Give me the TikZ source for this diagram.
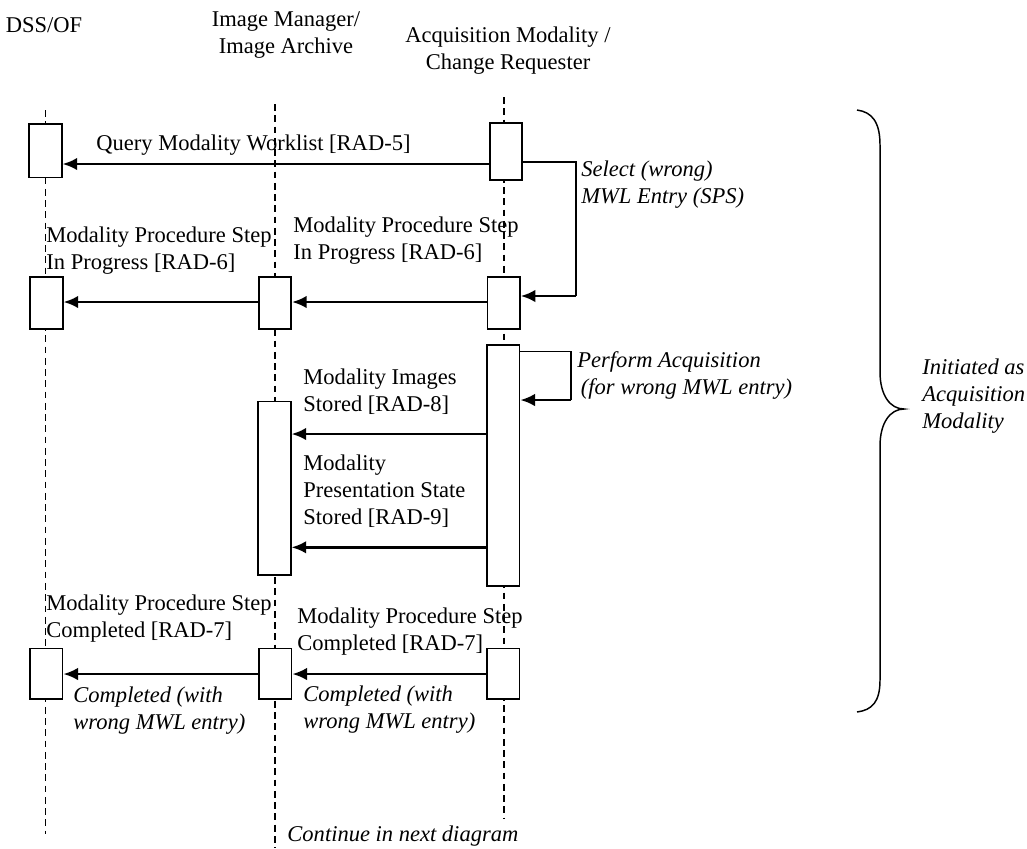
\documentclass[tikz,border=0pt]{standalone}
\usepackage{fontspec}
\setmainfont{Liberation Serif}
\usetikzlibrary{arrows.meta}
\begin{document}
\begin{tikzpicture}[x=0.444pt,y=-0.444pt,
  life/.style={line width=0.6pt,dash pattern=on 3pt off 2pt},
  act/.style={draw,fill=white,line width=0.75pt,minimum width=14.4pt,inner sep=0pt},
  msg/.style={line width=1.15pt,-{Latex[length=6.5pt,width=5.6pt]}},
  txt/.style={anchor=west,align=left,inner sep=0pt,font=\fontsize{10}{12}\selectfont},
  note/.style={txt,font=\fontsize{10}{12}\selectfont\itshape},
  head/.style={align=center,inner sep=0pt,font=\fontsize{10}{12}\selectfont}]
  \useasboundingbox (0,0) rectangle (1027,848);
  % actors
  \node[head] (dss) at (44,25) {DSS/OF};
  \node[head] (im) at (286,35) {Image Manager/\\Image Archive};
  \node[head] (am) at (508,51) {Acquisition Modality /\\Change Requester};
  % lifelines
  \draw[life] (45.5,110) -- (45.5,834);
  \draw[life] (275,104) -- (275,848);
  \draw[life] (504,97) -- (504,818);
  % activation boxes
  \node[act,minimum height=23.7pt] (dss1) at (45.5,150.7) {};
  \node[act,minimum height=25.4pt] (am1) at (506,151.3) {};
  \node[act,minimum height=22.8pt] (dss2) at (46.5,303) {};
  \node[act,minimum height=22.8pt] (im2) at (275,303) {};
  \node[act,minimum height=22.8pt] (am2) at (503.7,303) {};
  \node[act,minimum height=106.9pt] (am3) at (503.3,465.7) {};
  \node[act,minimum height=77.1pt] (im3) at (274.5,488.2) {};
  \node[act,minimum height=22.6pt] (dss4) at (46.3,673.8) {};
  \node[act,minimum height=22.6pt] (im4) at (275.3,673.8) {};
  \node[act,minimum height=22.6pt] (am4) at (503.3,673.8) {};
  % message rows
  \coordinate (r1) at (0,164);
  \coordinate (r2) at (0,162);
  \coordinate (r3) at (0,296);
  \coordinate (r4) at (0,302);
  \coordinate (r5) at (0,351.3);
  \coordinate (r6) at (0,400);
  \coordinate (r7) at (0,434);
  \coordinate (r8) at (0,547.3);
  \coordinate (r9) at (0,674);
  \coordinate (sel) at (576,0);
  \coordinate (acq) at (571,0);
  % messages
  \draw[msg] (am1.west |- r1) -- (dss1.east |- r1);
  \draw[line width=0.65pt] (am1.east |- r2) -| (sel |- r3);
  \draw[msg] (sel |- r3) -- (am2.east |- r3);
  \draw[msg] (am2.west |- r4) -- (im2.east |- r4);
  \draw[msg] (im2.west |- r4) -- (dss2.east |- r4);
  \draw[line width=0.65pt] (am3.east |- r5) -| (acq |- r6);
  \draw[msg] (acq |- r6) -- (am3.east |- r6);
  \draw[msg] (am3.west |- r7) -- (im3.east |- r7);
  \draw[msg] (am3.west |- r8) -- (im3.east |- r8);
  \draw[msg] (am4.west |- r9) -- (im4.east |- r9);
  \draw[msg] (im4.west |- r9) -- (dss4.east |- r9);
  % labels
  \node[txt] (q5) at (96,145) {Query Modality Worklist [RAD-5]};
  \node[note] (sps) at (581,185) {Select (wrong)\\MWL Entry (SPS)};
  \node[txt] (p6a) at (46,250.5) {Modality Procedure Step\\In Progress [RAD-6]};
  \node[txt] (p6b) at (293,241) {Modality Procedure Step\\In Progress [RAD-6]};
  \node[note] (acqn) at (577,375.5) {Perform Acquisition\\\hspace{1.5pt}(for wrong MWL entry)};
  \node[txt] (s8) at (303,392) {Modality Images\\Stored [RAD-8]};
  \node[txt] (s9) at (303,491) {Modality\\Presentation State\\Stored [RAD-9]};
  \node[txt] (p7a) at (46,619) {Modality Procedure Step\\Completed [RAD-7]};
  \node[txt] (p7b) at (297,632) {Modality Procedure Step\\Completed [RAD-7]};
  \node[note] (c7a) at (73,711) {Completed (with\\wrong MWL entry)};
  \node[note] (c7b) at (303,710) {Completed (with\\wrong MWL entry)};
  \node[note] (cont) at (287,836.5) {Continue in next diagram};
  % brace
  \draw[line width=0.65pt] (857,110) .. controls (872,112) and (880,122) .. (880,145)
    -- (880,372) .. controls (880,395) and (890,409) .. (904,409)
    .. controls (890,409) and (880,423) .. (880,446)
    -- (880,680) .. controls (880,702) and (872,710) .. (857,712);
  \node[note] (init) at (922,396) {Initiated as\\Acquisition\\Modality};
\end{tikzpicture}
\end{document}
